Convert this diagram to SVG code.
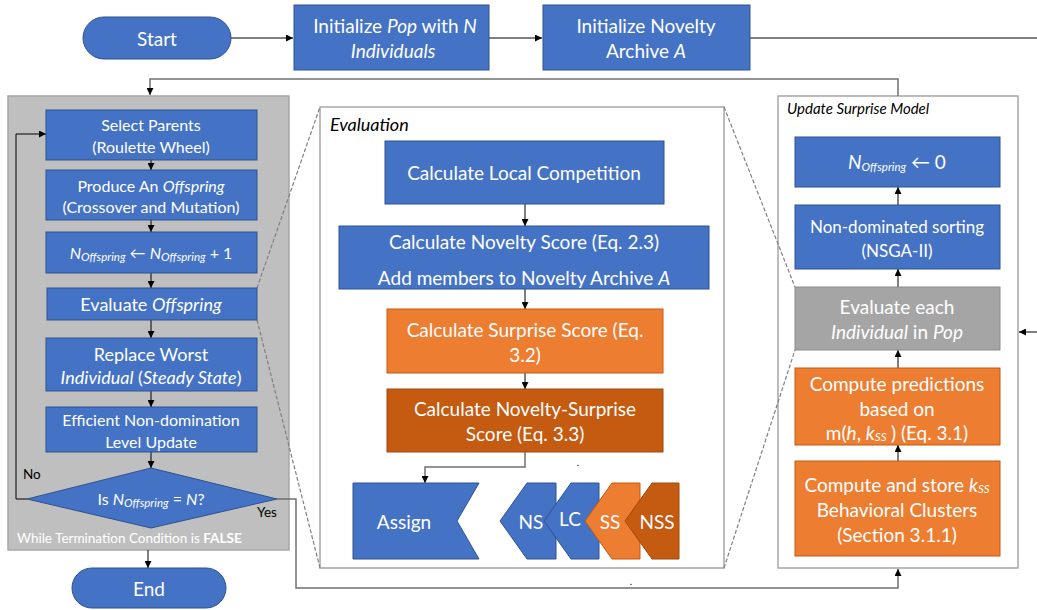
<svg xmlns="http://www.w3.org/2000/svg" width="1037" height="610" viewBox="0 0 1037 610">
  <style>
    .blue { fill: #4472C4; stroke: #2F528F; stroke-width: 1; }
    .orange { fill: #ED7D31; stroke: #C55A11; stroke-width: 1; }
    .dark { fill: #C55A11; stroke: #A04A0E; stroke-width: 1; }
    .grey { fill: #A5A5A5; stroke: #8C8C8C; stroke-width: 1; }
    .panel { fill: #BFBFBF; stroke: #A6A6A6; stroke-width: 1.5; }
    .frame { fill: #FFFFFF; stroke: #A6A6A6; stroke-width: 1.5; }
    text { font-family: Lato, "Liberation Sans", sans-serif; }
    .t { fill: #FFFFFF; text-anchor: middle; dominant-baseline: central; }
    .s18 { font-size: 19px; }
    .s17 { font-size: 18px; }
    .s15 { font-size: 16px; }
    .lbl { fill: #000000; font-size: 13.5px; }
    .ital { font-style: italic; }
    .sub { font-size: 11.5px; font-style: italic; }
    .conn { fill: none; stroke: #000000; stroke-width: 1; }
    .conn2 { fill: none; stroke: #707070; stroke-width: 1.5; }
    .zoom { fill: none; stroke: #808080; stroke-width: 1.2; stroke-dasharray: 4 2; }
  </style>
  <defs>
    <marker id="arr" viewBox="0 0 10 10" refX="10" refY="5" markerWidth="7" markerHeight="7" markerUnits="userSpaceOnUse" orient="auto">
      <path d="M0,0 L10,5 L0,10 z" fill="#000000"/>
    </marker>
  </defs>

  <!-- container panels -->
  <g id="loop-panel">
    <rect class="panel" x="8" y="96" width="281" height="454"/>
    <text x="17" y="538" font-size="13.5" fill="#FFFFFF" dominant-baseline="central">While Termination Condition is <tspan font-weight="bold">FALSE</tspan></text>
  </g>
  <g id="evaluation-panel">
    <rect class="frame" x="320" y="107" width="404" height="461"/>
    <text x="330" y="124" font-size="18" class="ital" fill="#000000" dominant-baseline="central">Evaluation</text>
  </g>
  <g id="surprise-panel">
    <rect class="frame" x="778" y="96" width="240" height="472"/>
    <text x="787" y="108" font-size="15" class="ital" fill="#000000" dominant-baseline="central">Update Surprise Model</text>
  </g>

  <!-- connectors -->
  <g id="connectors">
    <line class="conn" x1="231" y1="38" x2="293" y2="38" marker-end="url(#arr)"/>
    <line class="conn" x1="489" y1="38" x2="542" y2="38" marker-end="url(#arr)"/>
    <line class="conn" x1="750" y1="38" x2="1037" y2="38"/>
    <polyline class="conn2" points="898,96 898,79 150,79 150,95" marker-end="url(#arr)"/>
    <line class="conn" x1="151" y1="160" x2="151" y2="170" marker-end="url(#arr)"/>
    <line class="conn" x1="151" y1="220" x2="151" y2="232" marker-end="url(#arr)"/>
    <line class="conn" x1="151" y1="273" x2="151" y2="288" marker-end="url(#arr)"/>
    <line class="conn" x1="151" y1="320" x2="151" y2="338" marker-end="url(#arr)"/>
    <line class="conn" x1="151" y1="391" x2="151" y2="407" marker-end="url(#arr)"/>
    <line class="conn" x1="151" y1="452" x2="151" y2="468" marker-end="url(#arr)"/>
    <polyline class="conn" points="27,499 16,499 16,134 46,134" marker-end="url(#arr)"/>
    <line class="conn" x1="148" y1="550" x2="148" y2="568" marker-end="url(#arr)"/>
    <polyline class="conn2" points="277,499 296,499 296,588 898,588 898,569" marker-end="url(#arr)"/>
    <line class="conn" x1="525" y1="204" x2="525" y2="226" marker-end="url(#arr)"/>
    <line class="conn" x1="525" y1="289" x2="525" y2="309" marker-end="url(#arr)"/>
    <line class="conn" x1="525" y1="373" x2="525" y2="389" marker-end="url(#arr)"/>
    <polyline class="conn2" points="525,452 525,467 425,467 425,483" marker-end="url(#arr)"/>
    <line class="conn" x1="898" y1="461" x2="898" y2="445" marker-end="url(#arr)"/>
    <line class="conn" x1="898" y1="368" x2="898" y2="350" marker-end="url(#arr)"/>
    <line class="conn" x1="898" y1="287" x2="898" y2="269" marker-end="url(#arr)"/>
    <line class="conn" x1="898" y1="205" x2="898" y2="187" marker-end="url(#arr)"/>
    <line class="conn" x1="1037" y1="332" x2="1019" y2="332" marker-end="url(#arr)"/>
    <!-- zoom-out guides linking the evaluation step to its detail -->
    <line class="zoom" x1="257" y1="288" x2="320" y2="107"/>
    <line class="zoom" x1="257" y1="320" x2="320" y2="568"/>
    <line class="zoom" x1="724" y1="107" x2="795" y2="287"/>
    <line class="zoom" x1="724" y1="568" x2="795" y2="350"/>
  </g>

  <!-- top row -->
  <g id="start">
    <rect class="blue" x="83" y="17" width="148" height="42" rx="21"/>
    <text class="t s18" x="157" y="38">Start</text>
  </g>
  <g id="init-pop">
    <rect class="blue" x="294" y="5" width="195" height="65"/>
    <text class="t s18" x="395" y="25">Initialize <tspan class="ital">Pop</tspan> with <tspan class="ital">N</tspan></text>
    <text class="t s18 ital" x="393" y="50">Individuals</text>
  </g>
  <g id="init-archive">
    <rect class="blue" x="543" y="5" width="207" height="65"/>
    <text class="t s18" x="646" y="25">Initialize Novelty</text>
    <text class="t s18" x="646" y="50">Archive <tspan class="ital">A</tspan></text>
  </g>

  <!-- steady-state loop -->
  <g id="select-parents">
    <rect class="blue" x="46" y="110" width="211" height="50"/>
    <text class="t s15" x="151" y="124">Select Parents</text>
    <text class="t s15" x="151" y="146">(Roulette Wheel)</text>
  </g>
  <g id="produce-offspring">
    <rect class="blue" x="46" y="170" width="211" height="50"/>
    <text class="t s15" x="151" y="185">Produce An <tspan class="ital">Offspring</tspan></text>
    <text class="t s15" x="151" y="206">(Crossover and Mutation)</text>
  </g>
  <g id="increment">
    <rect class="blue" x="46" y="232" width="211" height="41"/>
    <text class="t s15" x="151" y="252"><tspan class="ital">N</tspan><tspan class="sub" dy="4">Offspring</tspan><tspan dy="-4"> ← </tspan><tspan class="ital">N</tspan><tspan class="sub" dy="4">Offspring</tspan><tspan dy="-4"> + 1</tspan></text>
  </g>
  <g id="evaluate-offspring">
    <rect class="blue" x="47" y="288" width="210" height="32"/>
    <text class="t s17" x="151" y="304">Evaluate <tspan class="ital">Offspring</tspan></text>
  </g>
  <g id="replace-worst">
    <rect class="blue" x="46" y="338" width="211" height="53"/>
    <text class="t s17" x="151" y="354">Replace Worst</text>
    <text class="t s17" x="151" y="377"><tspan class="ital">Individual</tspan> (<tspan class="ital">Steady State</tspan>)</text>
  </g>
  <g id="level-update">
    <rect class="blue" x="46" y="407" width="211" height="45"/>
    <text class="t s15" x="151" y="419">Efficient Non-domination</text>
    <text class="t s15" x="151" y="441">Level Update</text>
  </g>
  <g id="check-count">
    <polygon class="blue" points="151,468 277,499 151,528 27,499"/>
    <text class="t s15" x="151" y="498">Is <tspan class="ital">N</tspan><tspan class="sub" dy="4">Offspring</tspan><tspan dy="-4"> = </tspan><tspan class="ital">N</tspan>?</text>
  </g>
  <g id="label-no"><text class="lbl" x="23" y="479">No</text></g>
  <g id="label-yes"><text class="lbl" x="257" y="517">Yes</text></g>
  <g id="end">
    <rect class="blue" x="72" y="568" width="154" height="40" rx="20"/>
    <text class="t s18" x="149" y="588">End</text>
  </g>

  <!-- evaluation detail -->
  <g id="local-competition">
    <rect class="blue" x="385" y="141" width="279" height="63"/>
    <text class="t s18" x="524" y="172">Calculate Local Competition</text>
  </g>
  <g id="novelty-score">
    <rect class="blue" x="339" y="226" width="370" height="63"/>
    <text class="t s18" x="524" y="241">Calculate Novelty Score (Eq. 2.3)</text>
    <text class="t s18" x="524" y="277">Add members to Novelty Archive <tspan class="ital">A</tspan></text>
  </g>
  <g id="surprise-score">
    <rect class="orange" x="387" y="309" width="276" height="64"/>
    <text class="t s18" x="525" y="329">Calculate Surprise Score (Eq.</text>
    <text class="t s18" x="525" y="354">3.2)</text>
  </g>
  <g id="novelty-surprise-score">
    <rect class="dark" x="387" y="389" width="276" height="63"/>
    <text class="t s18" x="525" y="408">Calculate Novelty-Surprise</text>
    <text class="t s18" x="525" y="433">Score (Eq. 3.3)</text>
  </g>
  <g id="dot-1"><text x="578" y="466" font-size="10" fill="#000000" text-anchor="middle">.</text></g>
  <g id="assign">
    <polygon class="blue" points="353,483 479,483 457,521 479,559 353,559"/>
    <text class="t s18" x="404" y="521">Assign</text>
  </g>
  <g id="tag-ns">
    <polygon class="blue" points="500,521 527,483 556,483 556,559 527,559"/>
    <text class="t s18" x="531" y="521">NS</text>
  </g>
  <g id="tag-lc">
    <polygon class="blue" points="544,521 571,483 599,483 599,559 571,559"/>
    <text class="t s18" x="570" y="518">LC</text>
  </g>
  <g id="tag-ss">
    <polygon class="orange" points="585,521 612,483 640,483 640,559 612,559"/>
    <text class="t s18" x="610" y="521">SS</text>
  </g>
  <g id="tag-nss">
    <polygon class="dark" points="625,521 652,483 679,483 679,559 652,559"/>
    <text class="t s18" x="657" y="521">NSS</text>
  </g>
  <g id="dot-2"><text x="631" y="585" font-size="10" fill="#000000" text-anchor="middle">.</text></g>

  <!-- surprise model update -->
  <g id="reset-count">
    <rect class="blue" x="795" y="137" width="205" height="50"/>
    <text class="t s18" x="897" y="161"><tspan class="ital">N</tspan><tspan class="sub" font-size="12.5" dy="5">Offspring</tspan><tspan dy="-5"> ← 0</tspan></text>
  </g>
  <g id="nsga-sort">
    <rect class="blue" x="795" y="205" width="205" height="64"/>
    <text class="t" font-size="17" x="897" y="226">Non-dominated sorting</text>
    <text class="t" font-size="17" x="897" y="250">(NSGA-II)</text>
  </g>
  <g id="evaluate-pop">
    <rect class="grey" x="795" y="287" width="205" height="63"/>
    <text class="t s18" x="897" y="306">Evaluate each</text>
    <text class="t s18" x="897" y="331"><tspan class="ital">Individual</tspan> in <tspan class="ital">Pop</tspan></text>
  </g>
  <g id="predictions">
    <rect class="orange" x="795" y="368" width="205" height="77"/>
    <text class="t s18" x="897" y="383">Compute predictions</text>
    <text class="t s18" x="897" y="408">based on</text>
    <text class="t s18" x="897" y="432">m(<tspan class="ital">h</tspan>, <tspan class="ital">k</tspan><tspan class="sub" font-size="12" dy="4">SS</tspan><tspan dy="-4" class="ital"> </tspan>) (Eq. 3.1)</text>
  </g>
  <g id="clusters">
    <rect class="orange" x="795" y="461" width="205" height="95"/>
    <text class="t s18" x="897" y="484">Compute and store <tspan class="ital">k</tspan><tspan class="sub" font-size="12" dy="4">SS</tspan></text>
    <text class="t s18" x="897" y="509">Behavioral Clusters</text>
    <text class="t s18" x="897" y="534">(Section 3.1.1)</text>
  </g>
</svg>
